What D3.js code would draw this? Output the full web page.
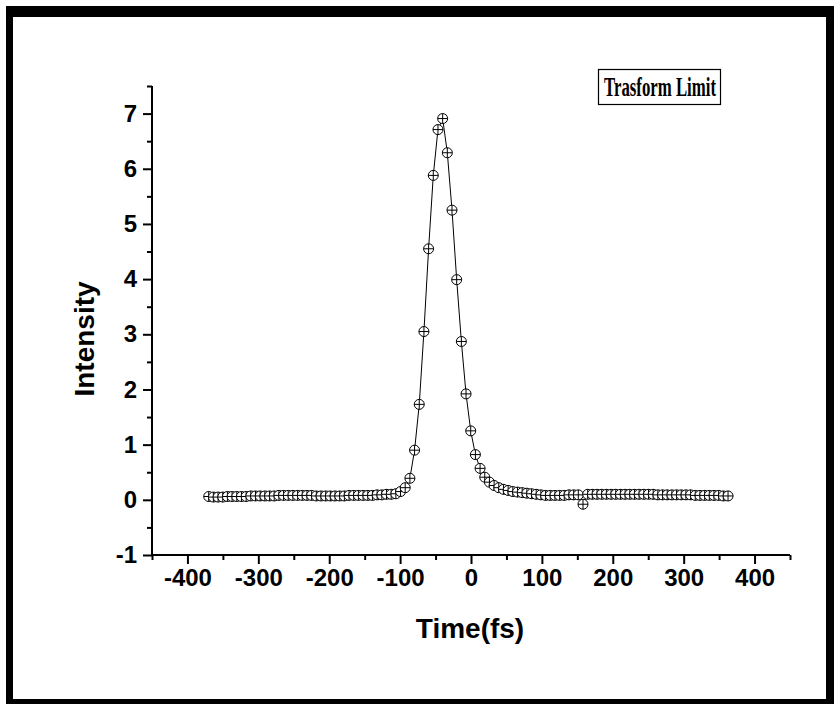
<!DOCTYPE html>
<html>
<head>
<meta charset="utf-8">
<script src="https://cdn.jsdelivr.net/npm/d3@7"></script>
<style>
  body { margin: 0; background: #fff; }
  .tick-label { font-family: "Liberation Sans", Arial, sans-serif; font-weight: bold; font-size: 24px; }
  .axis-title { font-family: "Liberation Sans", Arial, sans-serif; font-weight: bold; font-size: 28px; }
  .legend-text { font-family: "Liberation Serif", "Times New Roman", serif; font-weight: bold; font-size: 27px; }
</style>
</head>
<body>
<div id="chart"></div>
<script>
// pulse samples
const timeFs = [
  -370, -363.4, -356.8, -350.2, -343.6, -337, -330.4, -323.8, -317.2, -310.6,
  -304, -297.4, -290.8, -284.2, -277.6, -271, -264.4, -257.8, -251.2, -244.6,
  -238, -231.4, -224.8, -218.2, -211.6, -205, -198.4, -191.8, -185.2, -178.6,
  -172, -165.4, -158.8, -152.2, -145.6, -139, -132.4, -125.8, -119.2, -112.6,
  -106, -99.4, -92.8, -86.2, -79.6, -73, -66.4, -59.8, -53.2, -46.6,
  -40, -33.4, -26.8, -20.2, -13.6, -7, -0.4, 6.2, 12.8, 19.4,
  26, 32.6, 39.2, 45.8, 52.4, 59, 65.6, 72.2, 78.8, 85.4,
  92, 98.6, 105.2, 111.8, 118.4, 125, 131.6, 138.2, 144.8, 151.4,
  158, 164.6, 171.2, 177.8, 184.4, 191, 197.6, 204.2, 210.8, 217.4,
  224, 230.6, 237.2, 243.8, 250.4, 257, 263.6, 270.2, 276.8, 283.4,
  290, 296.6, 303.2, 309.8, 316.4, 323, 329.6, 336.2, 342.8, 349.4,
  356, 362.6
];
const intensity = [
  0.06, 0.05, 0.05, 0.05, 0.06, 0.06, 0.06, 0.06, 0.06, 0.07,
  0.07, 0.07, 0.07, 0.07, 0.07, 0.08, 0.08, 0.08, 0.08, 0.08,
  0.08, 0.08, 0.08, 0.07, 0.07, 0.07, 0.07, 0.07, 0.07, 0.07,
  0.08, 0.08, 0.08, 0.08, 0.08, 0.08, 0.09, 0.09, 0.10, 0.10,
  0.11, 0.15, 0.22, 0.39, 0.90, 1.73, 3.05, 4.55, 5.88, 6.71,
  6.91, 6.29, 5.25, 3.99, 2.87, 1.92, 1.25, 0.82, 0.57, 0.41,
  0.32, 0.26, 0.22, 0.19, 0.17, 0.15, 0.14, 0.13, 0.12, 0.11,
  0.10, 0.09, 0.08, 0.08, 0.08, 0.08, 0.08, 0.09, 0.09, 0.09,
  -0.08, 0.10, 0.10, 0.10, 0.10, 0.10, 0.10, 0.10, 0.10, 0.10,
  0.10, 0.10, 0.10, 0.10, 0.10, 0.10, 0.09, 0.09, 0.09, 0.09,
  0.09, 0.09, 0.09, 0.09, 0.08, 0.08, 0.08, 0.08, 0.08, 0.08,
  0.07, 0.07
];
const xTicks = [-400, -300, -200, -100, 0, 100, 200, 300, 400];
const yTicks = [-1, 0, 1, 2, 3, 4, 5, 6, 7];
const legendLabel = "Trasform Limit";

class PulseChart {
  constructor(_parent) {
    this.parent = _parent;
    this.width = 834;
    this.height = 704;
    this.left = 152;
    this.right = 790;
    this.top = 86;
    this.bottom = 555;
    this.r = 5;
    this.initVis();
  }

  initVis() {
    const vis = this;

    vis.svg = d3.select(vis.parent).append("svg")
      .attr("width", vis.width)
      .attr("height", vis.height);

    // thick black page frame
    vis.svg.append("path")
      .attr("fill", "#000")
      .attr("fill-rule", "evenodd")
      .attr("d", "M6,6H834V704H6Z M13,17H826V699H13Z");

    vis.xScale = d3.scaleLinear().domain([-450, 450]).range([vis.left, vis.right]);
    vis.yScale = d3.scaleLinear().domain([-1, 7.5]).range([vis.bottom, vis.top]);

    // plain hyphen for negatives, like the original
    const fmt = (d) => String(d);

    // axes: major ticks with labels, minor ticks half way
    const xAxis = d3.axisBottom(vis.xScale).tickValues(xTicks).tickSize(9).tickPadding(5).tickFormat(fmt);
    const xMinor = d3.axisBottom(vis.xScale).tickValues(d3.range(-450, 451, 100)).tickSize(5).tickFormat("");
    const yAxis = d3.axisLeft(vis.yScale).tickValues(yTicks).tickSize(9).tickPadding(6).tickFormat(fmt);
    const yMinor = d3.axisLeft(vis.yScale).tickValues(d3.range(-0.5, 7.6, 1)).tickSize(5).tickFormat("");

    [[xAxis, "x"], [xMinor, "x"], [yAxis, "y"], [yMinor, "y"]].forEach(([ax, k]) => {
      const g = vis.svg.append("g")
        .attr("transform", k === "x" ? `translate(0,${vis.bottom})` : `translate(${vis.left},0)`)
        .call(ax);
      g.select(".domain").attr("stroke-width", 2).attr("d",
        k === "x" ? `M${vis.left},0H${vis.right}` : `M0,${vis.top}V${vis.bottom}`);
      g.selectAll(".tick line").attr("stroke-width", 2);
      g.selectAll(".tick text").attr("class", "tick-label").attr("fill", "#000");
    });

    vis.svg.append("text")
      .attr("class", "axis-title")
      .attr("x", (vis.left + vis.right) / 2 - 1)
      .attr("y", 638)
      .attr("text-anchor", "middle")
      .text("Time(fs)");

    vis.svg.append("text")
      .attr("class", "axis-title")
      .attr("transform", "translate(94,339) rotate(-90)")
      .attr("text-anchor", "middle")
      .text("Intensity");

    // legend box top right
    vis.svg.append("rect")
      .attr("x", 598.5).attr("y", 69.5)
      .attr("width", 122).attr("height", 35)
      .attr("fill", "#fff").attr("stroke", "#000").attr("stroke-width", 1.2);
    vis.svg.append("text")
      .attr("class", "legend-text")
      .attr("x", 604).attr("y", 96)
      .attr("textLength", 112)
      .attr("lengthAdjust", "spacingAndGlyphs")
      .text(legendLabel);

    vis.renderVis();
  }

  renderVis() {
    const vis = this;
    const pts = timeFs.map((t, i) => [t, intensity[i]]);

    const line = d3.line()
      .x(d => vis.xScale(d[0]))
      .y(d => vis.yScale(d[1]));

    vis.svg.append("path")
      .datum(pts)
      .attr("fill", "none")
      .attr("stroke", "#000")
      .attr("stroke-width", 1)
      .attr("d", line);

    // circle-plus markers
    const m = vis.svg.selectAll(".marker")
      .data(pts)
      .join("g")
      .attr("class", "marker")
      .attr("transform", d => `translate(${vis.xScale(d[0])},${vis.yScale(d[1])})`);

    m.append("circle")
      .attr("r", vis.r)
      .attr("fill", "#fff")
      .attr("stroke", "#000")
      .attr("stroke-width", 1);
    m.append("path")
      .attr("d", `M${-vis.r},0H${vis.r}M0,${-vis.r}V${vis.r}`)
      .attr("stroke", "#000")
      .attr("stroke-width", 1);
  }
}

new PulseChart("#chart");
</script>
</body>
</html>
